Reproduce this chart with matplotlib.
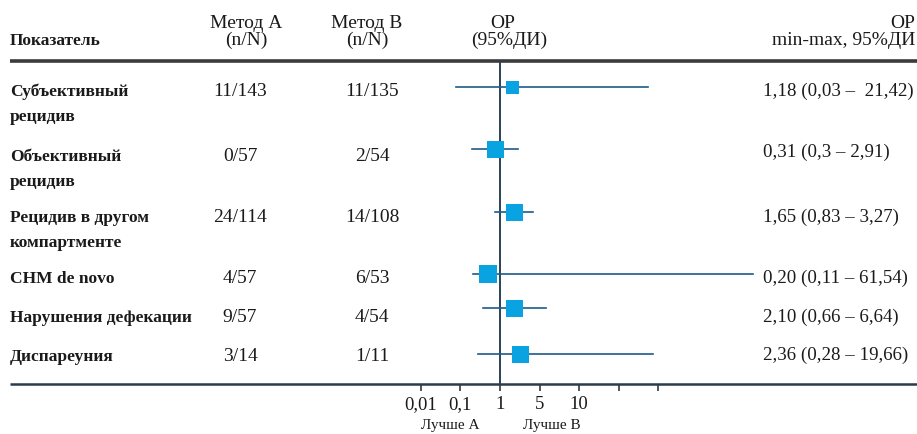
import numpy as np
import matplotlib
matplotlib.use("Agg")
import matplotlib.pyplot as plt

# ---------------- data ----------------
indicators = ["Субъективный\nрецидив", "Объективный\nрецидив",
              "Рецидив в другом\nкомпартменте", "СНМ de novo",
              "Нарушения дефекации", "Диспареуния"]
method_a = ["11/143", "0/57", "24/114", "4/57", "9/57", "3/14"]
method_b = ["11/135", "2/54", "14/108", "6/53", "4/54", "1/11"]
or_text = ["1,18 (0,03 –  21,42)", "0,31 (0,3 – 2,91)", "1,65 (0,83 – 3,27)",
           "0,20 (0,11 – 61,54)", "2,10 (0,66 – 6,64)", "2,36 (0,28 – 19,66)"]
# point estimates and CI ends as read off the drawn (non-standard) axis
or_drawn = [1.60, 0.73, 1.77, 0.50, 1.77, 2.25]
lo_drawn = [0.078, 0.196, 0.748, 0.208, 0.372, 0.278]
hi_drawn = [83.3, 2.08, 3.82, 524.0, 5.59, 91.0]
tick_values = [0.01, 0.1, 1, 5, 10, 50, 100]
tick_labels = ["0,01", "0,1", "1", "5", "10", "", ""]

# ---------------- layout / style ----------------
W, H = 917, 435
row_y = [88, 150, 213, 275, 309, 355]          # marker centres (px)
label_base = [96, 161, 222, 283, 322, 361]     # first-line baselines (px)
right_base = [96, 157, 222, 283, 322, 360]
marker_px = [13, 17, 17, 18, 17, 17]
TXT = "#1a1a1a"
LINE = "#1f5a86"
MARK = "#0aa3e2"
REF = "#2b4157"
RULE = "#3b3b3b"
FONT = "Liberation Serif"

fig = plt.figure(figsize=(W / 100, H / 100), dpi=100)
tx = fig.add_axes([0, 0, 1, 1])
tx.set_xlim(0, W)
tx.set_ylim(H, 0)
tx.axis("off")

def t(x, y, s, **kw):
    kw.setdefault("family", FONT)
    kw.setdefault("color", TXT)
    kw.setdefault("fontsize", 14)
    tx.text(x, y, s, **kw)

# header
t(10, 45, "Показатель", ha="left", va="baseline", weight="bold", fontsize=12.5)
t(246, 28, "Метод А", ha="center", va="baseline")
t(246, 45, "(n/N)", ha="center", va="baseline")
t(367, 28, "Метод В", ha="center", va="baseline")
t(367, 45, "(n/N)", ha="center", va="baseline")
t(503, 28, "ОР", ha="center", va="baseline")
t(509, 45, "(95%ДИ)", ha="center", va="baseline")
t(915, 28, "ОР", ha="right", va="baseline")
t(915, 45, "min-max, 95%ДИ", ha="right", va="baseline")

# rules
tx.plot([10, W], [62, 62], color=RULE, lw=2.6, solid_capstyle="butt")
tx.plot([10, W], [385, 385], color="#2a3b49", lw=1.8, solid_capstyle="butt")

# rows
for i in range(len(indicators)):
    lines = indicators[i].split("\n")
    for k, ln in enumerate(lines):
        t(10, label_base[i] + 25 * k, ln, ha="left", va="baseline",
          weight="bold", fontsize=12.5)
    t(240, label_base[i], method_a[i], ha="center", va="baseline")
    t(372, label_base[i], method_b[i], ha="center", va="baseline")
    t(763, right_base[i], or_text[i], ha="left", va="baseline", fontsize=13.6)

t(450, 429, "Лучше А", ha="center", va="baseline", fontsize=11)
t(552, 429, "Лучше В", ha="center", va="baseline", fontsize=11)

# ---------------- forest axis (piecewise log scale through the ticks) ----------------
LK = np.log10(np.array(tick_values, dtype=float))
IDX = np.arange(len(tick_values), dtype=float)

def fwd(v):
    v = np.asarray(v, dtype=float)
    lv = np.log10(np.clip(v, 1e-300, None))
    out = np.interp(lv, LK, IDX)
    out = np.where(lv < LK[0], (lv - LK[0]) / (LK[1] - LK[0]), out)
    out = np.where(lv > LK[-1], IDX[-1] + (lv - LK[-1]) / (LK[-1] - LK[-2]), out)
    return out

def inv(i):
    i = np.asarray(i, dtype=float)
    lv = np.interp(i, IDX, LK)
    lv = np.where(i < 0, LK[0] + i * (LK[1] - LK[0]), lv)
    lv = np.where(i > IDX[-1], LK[-1] + (i - IDX[-1]) * (LK[-1] - LK[-2]), lv)
    return 10 ** lv

X0, X1 = 415, W
SP = 39.6
one_px = 500
idx_left = 2 + (X0 - one_px) / SP
idx_right = 2 + (X1 - one_px) / SP
top_px, bot_px = 62, 385
fax = fig.add_axes([X0 / W, (H - bot_px) / H, (X1 - X0) / W, (bot_px - top_px) / H])
fax.patch.set_alpha(0)
fax.set_xscale("function", functions=(fwd, inv))
fax.set_xlim(float(inv(idx_left)), float(inv(idx_right)))
fax.set_ylim(bot_px, top_px)
for s in fax.spines.values():
    s.set_visible(False)
fax.set_yticks([])
fax.set_xticks(tick_values)
fax.set_xticklabels(tick_labels)
fax.minorticks_off()
fax.tick_params(axis="x", direction="out", length=5, width=1.2, color="#2a3b49",
                pad=3, labelsize=13.5, labelcolor=TXT)
for lb in fax.get_xticklabels():
    lb.set_family(FONT)

fax.axvline(1, color=REF, lw=1.4, zorder=1)
for i in range(len(or_drawn)):
    fax.plot([lo_drawn[i], hi_drawn[i]], [row_y[i], row_y[i]], color=LINE, lw=1.2, zorder=2)
    fax.plot([or_drawn[i]], [row_y[i]], marker="s", linestyle="none",
             markersize=marker_px[i] * 0.72, color=MARK, markeredgewidth=0, zorder=3)

fig.savefig("out.png", dpi=100)
